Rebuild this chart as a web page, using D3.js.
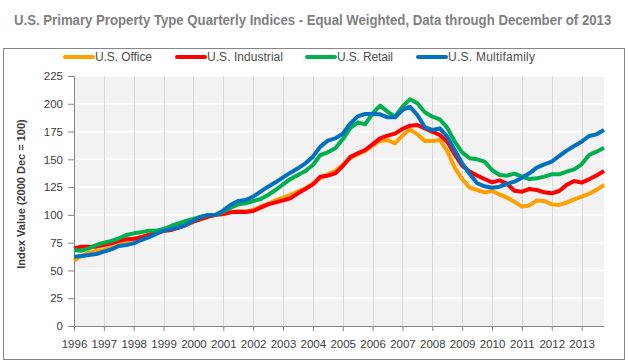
<!DOCTYPE html>
<html>
<head>
<meta charset="utf-8">
<script src="https://cdn.jsdelivr.net/npm/d3@7"></script>
<style>
    body { margin: 0; background: #fff; }
    svg { display: block; }
</style>
</head>
<body>
<svg id="chart"></svg>
<script>
// quarterly index values, 1996 Q1 .. 2013 Q4 (2000 Q4 = 100)
let office = [
    58.8, 63, 66, 67.5, 68.4, 70.5, 73.8, 76.5, 78, 80, 82, 84.5, 86, 87, 89, 91.5, 94.5, 96.5, 98.5, 100,
    100.8, 102.5, 103, 103, 104.5, 107.5, 110, 113, 115.5, 118, 121, 124, 128, 133, 136.5, 139.5,
    145, 151, 154.5, 157.5, 162.3, 166.5, 167.4, 164.4, 171.3, 177, 172.5, 166.5, 166.5, 167.4, 157.5, 142.5, 132.3,
    124.5, 122.4, 120.3, 121.5, 118.5, 115.5, 111.9, 107.5, 108.5, 113, 112.5, 109.5, 109, 111, 114, 116.5, 119, 122.5, 127
];
let industrial = [
    69.9, 71.4, 71.4, 71.4, 72.9, 74.4, 76.8, 78, 78.6, 79.8, 81.9, 84, 85.5, 86.4, 88.5, 90.9, 93.9, 96.3, 98.4, 100,
    100.8, 102.3, 102.9, 102.6, 103.5, 106.5, 109.5, 111.3, 113.1, 114.9, 119.4, 123.3, 127.5, 134.4, 135.3, 137.4,
    144, 152, 155.4, 158.4, 163.5, 168.9, 171.3, 173.1, 177.3, 180.3, 180.9, 177.9, 174.9, 171.9, 165.9, 154.5, 144.3,
    139, 135.5, 132.3, 129.3, 131.1, 128.1, 121.8, 120.9, 123.3, 122.4, 120.3, 119.4, 121.5, 127, 130.5, 129, 132, 135.5, 139.5
];
let retail = [
    68.4, 67.8, 69.9, 72.9, 75, 76.5, 78.9, 81.9, 83.4, 84.3, 85.8, 85.8, 87.3, 90, 92.4, 94.5, 96.3, 98.4, 99.9, 100,
    102.9, 106.5, 109.5, 110.4, 112.5, 114.3, 117.9, 122.4, 127.5, 132.3, 135.9, 139.5, 144.9, 153.9, 156.3, 159.9,
    168, 178, 183.3, 181.5, 191.4, 198.3, 192.9, 188.4, 197.4, 204, 200.4, 192.3, 188.4, 186, 178.5, 165.9, 156.3,
    151, 150, 147.9, 140.4, 135.9, 135.3, 137.1, 134.4, 132.3, 132.9, 134.4, 136.5, 136.5, 138.9, 141, 145.5, 153.9, 156.9, 160.5
];
let multifamily = [
    62.4, 63, 63.9, 64.8, 66.9, 69, 72, 72.9, 74.4, 77.4, 79.8, 82.8, 85.8, 87.3, 88.5, 90.9, 95, 98, 100, 100,
    104, 109, 112.5, 113.4, 116.4, 120.9, 125.4, 129.3, 133.8, 138, 141.9, 146.4, 152.4, 161.4, 166.8, 168.9,
    173, 182, 188.7, 190.8, 190.8, 190.5, 187.8, 187.8, 194.4, 197.4, 189.9, 178.8, 176.4, 177.9, 170.4, 158.4, 146.4,
    137, 128.5, 125.7, 124.5, 125.4, 127.8, 129.9, 133.5, 137.4, 142.5, 145.5, 147.9, 153, 157.8, 162, 165.9, 171, 172.5, 176.4
];

let seriesNames = ["U.S. Office", "U.S. Industrial", "U.S. Retail", "U.S. Multifamily"];
let seriesColors = ["#ffa000", "#ff0000", "#00b04f", "#0070c0"];
let yearLabels = ["1996", "1997", "1998", "1999", "2000", "2001", "2002", "2003", "2004",
    "2005", "2006", "2007", "2008", "2009", "2010", "2011", "2012", "2013"];
let yTicks = [0, 25, 50, 75, 100, 125, 150, 175, 200, 225];

let titleText = "U.S. Primary Property Type Quarterly Indices - Equal Weighted, Data through December of 2013";
let yTitle = "Index Value (2000 Dec = 100)";

let W = 628, H = 363;
let plot = {left: 74, right: 604, top: 76, bottom: 326};
let legendX = [65, 177, 307, 418];
let legendTextW = [57, 76, 56, 87];

let svg = d3.select("#chart").attr("width", W).attr("height", H);

function drawFrame() {
    svg.append("rect")
        .attr("x", 3.5).attr("y", 48.5)
        .attr("width", 621).attr("height", 311)
        .attr("fill", "none")
        .attr("stroke", "#868686");

    // title squeezed horizontally to look like a narrow face
    let title = svg.append("text")
        .attr("x", 0).attr("y", 0)
        .style("font-family", "'Liberation Sans', Arial, sans-serif")
        .style("font-size", "15px")
        .style("font-weight", "bold")
        .style("fill", "#7f7f7f")
        .text(titleText);
    let natural = title.node().getComputedTextLength();
    let sx = 598 / natural;
    title.attr("transform", "translate(14,25) scale(" + sx + ",1)");

    svg.append("rect")
        .attr("x", plot.left).attr("y", plot.top)
        .attr("width", plot.right - plot.left)
        .attr("height", plot.bottom - plot.top)
        .attr("fill", "#f2f2f2");
}

function drawChart() {
    let quarters = d3.range(office.length);
    let x = d3.scaleLinear()
        .domain([0, quarters.length - 1])
        .range([plot.left, plot.right]);
    let y = d3.scaleLinear()
        .domain([0, 225])
        .range([plot.bottom, plot.top]);

    let yearIdx = yearLabels.map(function (d, i) { return i * 4; });

    // white horizontal grid
    svg.append("g")
        .selectAll("line")
        .data(yTicks.slice(1))
        .enter()
        .append("line")
        .attr("x1", plot.left).attr("x2", plot.right)
        .attr("y1", function (d) { return y(d); })
        .attr("y2", function (d) { return y(d); })
        .attr("stroke", "#ffffff")
        .attr("stroke-width", 1.5);

    // gray vertical grid
    svg.append("g")
        .selectAll("line")
        .data(yearIdx.slice(1))
        .enter()
        .append("line")
        .attr("x1", function (d) { return Math.round(x(d)) + 0.5; })
        .attr("x2", function (d) { return Math.round(x(d)) + 0.5; })
        .attr("y1", plot.top).attr("y2", plot.bottom)
        .attr("stroke", "#d9d9d9")
        .attr("stroke-width", 1);

    let xAxis = svg.append("g")
        .attr("transform", "translate(0," + plot.bottom + ")")
        .call(d3.axisBottom(x)
            .tickValues(yearIdx)
            .tickFormat(function (d) { return yearLabels[d / 4]; })
            .tickSize(5)
            .tickPadding(9)
            .tickSizeOuter(0));

    let yAxis = svg.append("g")
        .attr("transform", "translate(" + plot.left + ",0)")
        .call(d3.axisLeft(y)
            .tickValues(yTicks)
            .tickSize(6)
            .tickPadding(5)
            .tickSizeOuter(0));

    [xAxis, yAxis].forEach(function (g) {
        g.selectAll("path, line").attr("stroke", "#868686");
        g.selectAll("text")
            .style("font-family", "'Liberation Sans', Arial, sans-serif")
            .style("font-size", "11.5px")
            .style("fill", "#404040");
    });

    svg.append("text")
        .attr("transform", "translate(25,194) rotate(-90)")
        .attr("text-anchor", "middle")
        .style("font-family", "'Liberation Sans', Arial, sans-serif")
        .style("font-size", "11px")
        .style("font-weight", "bold")
        .style("fill", "#404040")
        .text(yTitle);

    let allSeries = [office, industrial, retail, multifamily];
    let line = d3.line()
        .x(function (d, i) { return x(i); })
        .y(function (d) { return y(d); });

    svg.append("g")
        .selectAll("path")
        .data(allSeries)
        .enter()
        .append("path")
        .attr("d", line)
        .attr("fill", "none")
        .attr("stroke", function (d, i) { return seriesColors[i]; })
        .attr("stroke-width", 4)
        .attr("stroke-linejoin", "round");
}

function drawLegend() {
    let legend = svg.append("g");
    seriesNames.forEach(function (name, i) {
        legend.append("line")
            .attr("x1", legendX[i]).attr("x2", legendX[i] + 28)
            .attr("y1", 57).attr("y2", 57)
            .attr("stroke", seriesColors[i])
            .attr("stroke-width", 4)
            .attr("stroke-linecap", "round");
        legend.append("text")
            .attr("x", legendX[i] + 30)
            .attr("y", 61)
            .attr("textLength", legendTextW[i])
            .attr("lengthAdjust", "spacing")
            .style("font-family", "'Liberation Sans', Arial, sans-serif")
            .style("font-size", "12px")
            .style("fill", "#4d4d4d")
            .text(name);
    });
}

drawFrame();
drawChart();
drawLegend();
</script>
</body>
</html>
